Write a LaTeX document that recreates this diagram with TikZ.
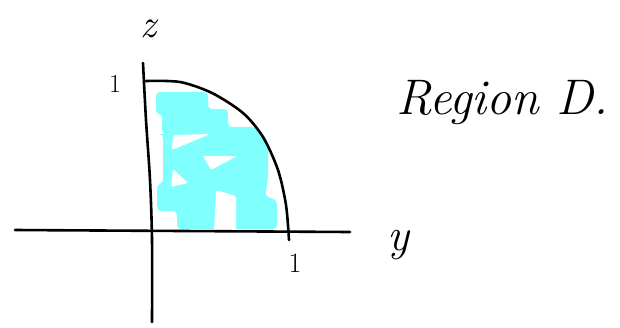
\documentclass[tikz,border=0pt]{standalone}
\begin{document}
\begin{tikzpicture}[x=1pt,y=-1pt,
  pen/.style={line width=2.6pt, line cap=round, line join=round, draw=black},
  ink/.style={fill=cyanink, rounded corners=4pt},
  hole/.style={fill=white, rounded corners=2pt},
  lbl/.style={inner sep=0pt}]
\definecolor{cyanink}{RGB}{128,255,255}
\useasboundingbox (0,0) rectangle (620,327);
% cyan scribble
\fill[ink] (156,92) -- (208,92) -- (208,109) -- (228,109) -- (228,127) -- (255,127)
  -- (268,140) -- (268,178) -- (265,196) -- (277,200) -- (277,229) -- (177,229)
  -- (177,211) -- (157,211) -- (157,184) -- (163,184) -- (163,134) -- (162,134)
  -- (162,114) -- (156,114) -- cycle;
% holes
\fill[hole] (173,135) -- (210,134) -- (172,150) -- cycle;
\fill[hole] (203,156) -- (237,156) -- (211,170) -- cycle;
\fill[hole] (173,169) -- (188,183) -- (171,187) -- cycle;
\fill[hole] (216,190) -- (236,196) -- (236,232) -- (214,232) -- cycle;
% axes
\draw[pen] (15,230) -- (350,232);
\draw[pen] plot[smooth] coordinates {(143,63) (146,120) (150,180) (152,240) (152,322)};
% arc
\draw[pen] plot[smooth] coordinates {(146,81) (180,82) (212,93) (243,113) (263,137) (278,170) (286,205) (289,240)};
% labels
\node[lbl] (z) at (148,29) {\fontsize{40}{40}\selectfont\itshape z};
\node[lbl] (onez) at (115,84) {\fontsize{26}{26}\selectfont 1};
\node[lbl] (oney) at (295,263) {\fontsize{28}{28}\selectfont 1};
\node[lbl] (y) at (398,245) {\fontsize{46}{46}\selectfont\itshape y};
\node[lbl, anchor=base west] (region) at (396,114) {\fontsize{50}{50}\selectfont\itshape Region D.};
\end{tikzpicture}
\end{document}
